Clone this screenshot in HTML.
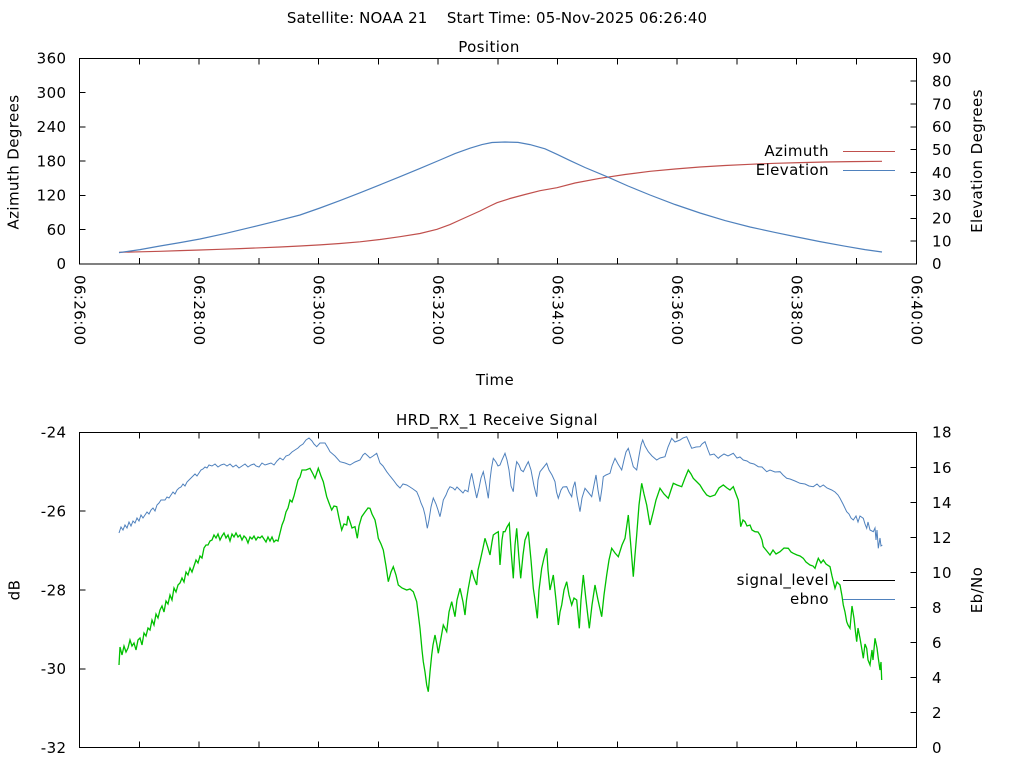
<!DOCTYPE html>
<html>
<head>
<meta charset="utf-8">
<style>
html,body{margin:0;padding:0;background:#fff;}
svg{display:block;}
text{font-family:"DejaVu Sans","Liberation Sans",sans-serif;font-size:15px;fill:#000;letter-spacing:0.4px;}
.ttl{white-space:pre;letter-spacing:0.1px;}
</style>
</head>
<body>
<svg width="1024" height="768" viewBox="0 0 1024 768" xmlns="http://www.w3.org/2000/svg">
<rect width="1024" height="768" fill="#fff"/>

<!-- Titles -->
<text class="ttl" x="497" y="23" text-anchor="middle" xml:space="preserve">Satellite: NOAA 21    Start Time: 05-Nov-2025 06:26:40</text>
<text x="489" y="52" text-anchor="middle">Position</text>
<text x="497" y="425" text-anchor="middle">HRD_RX_1 Receive Signal</text>
<text x="495" y="385" text-anchor="middle">Time</text>

<!-- Axis titles -->
<text transform="translate(18.5,162) rotate(-90)" text-anchor="middle">Azimuth Degrees</text>
<text transform="translate(982,161) rotate(-90)" text-anchor="middle">Elevation Degrees</text>
<text transform="translate(19.5,590) rotate(-90)" text-anchor="middle">dB</text>
<text transform="translate(982,590) rotate(-90)" text-anchor="middle">Eb/No</text>

<!-- ===== TOP PLOT ===== -->
<g stroke="#000" stroke-width="1" fill="none" shape-rendering="crispEdges">
<rect x="79.5" y="58.5" width="837" height="205.5"/>
<path d="M79.5 264v-6M139.3 264v-6M199.1 264v-6M258.8 264v-6M318.6 264v-6M378.4 264v-6M438.1 264v-6M497.9 264v-6M557.7 264v-6M617.4 264v-6M677.2 264v-6M737 264v-6M796.7 264v-6M856.5 264v-6M916.5 264v-6
M79.5 58.5v6M139.3 58.5v6M199.1 58.5v6M258.8 58.5v6M318.6 58.5v6M378.4 58.5v6M438.1 58.5v6M497.9 58.5v6M557.7 58.5v6M617.4 58.5v6M677.2 58.5v6M737 58.5v6M796.7 58.5v6M856.5 58.5v6M916.5 58.5v6"/>
<path d="M79.5 229.7h6M79.5 195.4h6M79.5 161.2h6M79.5 126.9h6M79.5 92.6h6"/>
<path d="M916.5 241.1h-6M916.5 218.3h-6M916.5 195.4h-6M916.5 172.6h-6M916.5 149.7h-6M916.5 126.9h-6M916.5 104h-6M916.5 81.2h-6"/>
</g>

<g text-anchor="end">
<text x="66.5" y="269">0</text>
<text x="66.5" y="235">60</text>
<text x="66.5" y="200.5">120</text>
<text x="66.5" y="166.5">180</text>
<text x="66.5" y="132">240</text>
<text x="66.5" y="98">300</text>
<text x="66.5" y="63.5">360</text>
</g>
<g>
<text x="932" y="269">0</text>
<text x="932" y="246.5">10</text>
<text x="932" y="223.5">20</text>
<text x="932" y="200.5">30</text>
<text x="932" y="178">40</text>
<text x="932" y="155">50</text>
<text x="932" y="132">60</text>
<text x="932" y="109.5">70</text>
<text x="932" y="86.5">80</text>
<text x="932" y="63.5">90</text>
</g>

<g>
<text transform="translate(79.5,275) rotate(90)" dy="5">06:26:00</text>
<text transform="translate(199.1,275) rotate(90)" dy="5">06:28:00</text>
<text transform="translate(318.6,275) rotate(90)" dy="5">06:30:00</text>
<text transform="translate(438.1,275) rotate(90)" dy="5">06:32:00</text>
<text transform="translate(557.7,275) rotate(90)" dy="5">06:34:00</text>
<text transform="translate(677.2,275) rotate(90)" dy="5">06:36:00</text>
<text transform="translate(796.7,275) rotate(90)" dy="5">06:38:00</text>
<text transform="translate(916.5,275) rotate(90)" dy="5">06:40:00</text>
</g>

<!-- Azimuth (red) -->
<polyline fill="none" stroke="#c0504d" stroke-width="1.2" points="119,252.3 140,251.8 160,251.3 180,250.6 200,250 220,249.3 240,248.6 260,247.8 280,247 300,246 320,244.9 340,243.5 360,241.8 380,239.5 400,236.7 420,233.5 437,229.3 450,224.6 460,220 470,215.5 480,211 490,206 497,202.7 510,198.5 525,194.5 540,190.7 557,187.7 575,183 600,178.3 625,174.5 650,171.3 675,169 700,167 725,165.5 750,164.3 775,163.3 800,162.6 825,162 850,161.6 882,161.3"/>

<!-- Elevation (blue) -->
<polyline fill="none" stroke="#4f81bd" stroke-width="1.2" points="119,252.6 140,249.6 160,246 180,242.6 200,239 225,233.6 250,227.6 275,221.4 300,215 320,208 340,200.6 360,192.8 380,184.8 400,176.7 420,168.4 440,160 455,153.6 470,148.2 482,144.6 492,142.5 505,142 518,142.4 530,144.6 545,148.8 557,154.3 570,160.6 585,167.5 607,176.7 628,186 650,195 675,204.5 700,213 725,220.6 750,227 775,232.4 797,237 820,241.6 845,246.2 865,249.6 882,252"/>

<!-- top legend -->
<text x="829" y="156" text-anchor="end">Azimuth</text>
<line x1="843" y1="151.5" x2="895" y2="151.5" stroke="#c0504d" stroke-width="1"/>
<text x="829" y="175" text-anchor="end">Elevation</text>
<line x1="843" y1="170.5" x2="895" y2="170.5" stroke="#4f81bd" stroke-width="1"/>

<!-- ===== BOTTOM PLOT ===== -->
<g stroke="#000" stroke-width="1" fill="none" shape-rendering="crispEdges">
<rect x="79.5" y="432.5" width="837" height="315"/>
<path d="M79.5 747.5v-6M139.3 747.5v-6M199.1 747.5v-6M258.8 747.5v-6M318.6 747.5v-6M378.4 747.5v-6M438.1 747.5v-6M497.9 747.5v-6M557.7 747.5v-6M617.4 747.5v-6M677.2 747.5v-6M737 747.5v-6M796.7 747.5v-6M856.5 747.5v-6M916.5 747.5v-6
M79.5 432.5v6M139.3 432.5v6M199.1 432.5v6M258.8 432.5v6M318.6 432.5v6M378.4 432.5v6M438.1 432.5v6M497.9 432.5v6M557.7 432.5v6M617.4 432.5v6M677.2 432.5v6M737 432.5v6M796.7 432.5v6M856.5 432.5v6M916.5 432.5v6"/>
<path d="M79.5 511.2h6M79.5 590h6M79.5 668.9h6"/>
<path d="M916.5 712.7h-6M916.5 677.6h-6M916.5 642.6h-6M916.5 607.5h-6M916.5 572.5h-6M916.5 537.5h-6M916.5 502.4h-6M916.5 467.4h-6"/>
</g>

<g text-anchor="end">
<text x="66.5" y="437.5">-24</text>
<text x="66.5" y="516.5">-26</text>
<text x="66.5" y="595.5">-28</text>
<text x="66.5" y="674">-30</text>
<text x="66.5" y="753">-32</text>
</g>
<g>
<text x="932" y="753">0</text>
<text x="932" y="718">2</text>
<text x="932" y="683">4</text>
<text x="932" y="648">6</text>
<text x="932" y="613">8</text>
<text x="932" y="578">10</text>
<text x="932" y="543">12</text>
<text x="932" y="508">14</text>
<text x="932" y="473">16</text>
<text x="932" y="437.5">18</text>
</g>

<!-- ebno (blue) -->
<polyline fill="none" stroke="#4f81bd" stroke-width="1" points="119,533 121,527 123,530 125,525 127,528 129,522 131,526 133,521 135,523 137,518 139,521 141,515 143,518 145,515 147,512 149,514 151,510 153,508 155,511 157,505 159,503 161,500 163,500 165,500 167,497 169,498 171,495 173,492 175,494 177,490 179,488 181,487 183,484 185,486 187,482 189,480 191,478 193,476 195,474 197,476 199,473 201,470 203,469 205,467 207,468 209,465 212,466 215,464 218,467 221,465 224,464 227,466 230,464 233,467 236,465 239,468 242,466 245,464 248,467 251,465 254,464 256,466 259,467 262,463 265,465 268,464 271,463 274,465 277,461 280,458 283,460 286,456 289,455 292,452 295,450 298,448 300,446 303,444 306,440 309,438 312,441 314,444 316.7,446.7 320,443 325,443 328,448 330,451.7 335,456 340,461.7 345,463 350,465 355,462 360,460 363,455 365,453.3 368,456 370,458 373,456 376.7,453.3 380,463 383,466 386.7,471.7 390,476 393.3,480 397,485 400,488 403,484 406.7,485 410,487 413,489 416.7,491.7 419,497 421,503 423.3,508.3 425,515 427.3,528.3 429,520 431,507 433.3,498 436,504 438,510 440,516.7 442,507 443.3,500 446,495 448,490 450,486.7 453,488 455,490 457,487 460,490 463,493 465,490 468,491.7 470,480 471.7,473.3 474,485 476.7,498 479,488 481,478 483.3,471.7 486,485 488.3,498.3 490,480 491.5,468 493.3,458.3 496,462 498,466 500,465 502,460 505,453.3 507,460 509,470 511,486 513.3,491.7 515,472 516.7,461.7 519,465 521,470 523.3,471.7 526,466 528.3,461.7 531,470 534,486 536.7,496.7 538,480 540,471.7 543,468 546.7,463.3 549,470 552,475 555,481.7 556.5,492 558.3,498.3 561,490 563,487 566.7,486.7 569,492 571.7,496.7 573,488 575,481.7 577,496 580,511.7 582,498 585,488.3 588,492 591.7,496.7 594,485 596,475 598,490 600,501.7 602,488 603.3,476.7 606,475 610,473.3 612,466 615,458.3 618,464 621.7,470 624,460 626,452 628.3,448.3 631,458 633.3,466.7 636.7,470 639,456 641,445 642.7,440 645,446 648.3,451.7 652,456 656.7,460 660,458 665,456.7 668,447 671.7,438.3 675,442 680,440 683,438 686.7,436.7 689,442 691.7,448.3 696,447 700,446.7 702,444 705,441.7 708,450 710,455 714,454 718.3,458.3 720,456.7 724,454 728,456 733.3,453.3 737,458 740,457 743.3,460 747,461 750,463 754,464 758.3,466.7 762,467 766.7,471.7 770,470 775,472 780,471.7 783,475 786.7,478.3 790,479 795,481 800,483.3 805,484 809,486 813.3,486.7 817,484 820,487 823.3,485 827,488 831.7,490 835,492 838,495 840,498.3 843,504 846.7,511.7 849,514 851,518 853.3,520 856,516 858,522 860,516 863.3,518.3 865,524 866.7,528.3 868,522 870,530 873.3,531.7 875,528 876,540 877,530 878.3,548.3 880,538 881,546 882.3,545"/>

<!-- signal_level (green) -->
<polyline fill="none" stroke="#00c000" stroke-width="1.3" points="119,665 120,647 122,655 124,646 126,652 128,648 130,640 132,646 134,643 136,650 138,640 140,638 142,645 144,633 146,636 148,628 150,630 152,620 154,625 156,614 158,618 160,610 162,606 164,612 166,601 168,604 170,595 172,600 174,588 176,592 178,585 180,583 182,578 184,582 186,572 188,575 190,568 192,572 194,566 196,560 198,563 200,556 202,558 204,548 206,545 208,545 210,541 212,540 214,535 216,538 218,534 220,540 222,536 224,533 226,538 228,535 230,541 232,534 234,537 236,533 238,537 240,535 242,540 244,536 246,538 248,543 250,537 252,539 254,536 256,540 258,537 260,538 262,536 264,539 266,542 268,537 270,541 272,537 274,542 276,540 278,541 280,533 282,525 284,520 286,512 288,508 290,500 292,502 294,496 296,488 298,480 300,477 302,470 306,470 310,468.3 313,474 315,478.3 318.3,468.3 321,476 323.3,481.7 326.7,496.7 329,503 331.7,510 334,506 336.7,506.7 339,518 341.7,530 344,524 346.7,525 348,516 350,521.7 352,528 355,526.7 357.3,538.3 359,526 361.7,516.7 365,512 368,508 370,508.3 372,514 375,520 377,530 378.3,538.3 381,544 383.3,550 386,566 388.3,581.7 391,572 393.3,566.7 396,575 398.3,585 402,588 406.7,590 410,589 413.3,591.7 416.7,601.7 418,612 420,628.3 422,650 423.3,661.7 425,672 426.7,685 428.3,691.7 430,672 431.7,655 433,645 435,635 437,645 438.3,653.3 441,638 443.3,625 446.7,631.7 449,612 451.7,601.7 455,616.7 457,600 460,588.3 463,602 465,615 466.5,600 468.3,588.3 471.7,570 474,578 476.7,585 478,570 480,561.7 483,548 485,538.3 488,548 490,555 492,542 493.3,535 496,533 498.3,531.7 500,565 502,540 503.3,531.7 505,531.7 507,527 509.3,523.3 511,550 513.3,578.3 515,545 516.7,528.3 518.7,555 520.7,578.3 523,555 525,540 528.3,531.7 531,560 533.3,588.3 535,600 537.3,618.3 539,590 541.7,568.3 544,558 546.7,548.3 548,570 550,590 553.3,575 556,600 558.3,625 560,612 561.7,605 564,590 566.7,581.7 569,595 571.7,605 574,598 576.7,600 579.3,628.3 581,600 583.3,575 586,600 589.3,628.3 592,605 595,585 598,600 601.7,616.7 604,595 606.7,575 609,560 611.7,548.3 615,553 618.3,556.7 622,545 625,538.3 628.3,515 631,548 633.3,576.7 635,555 636.7,535 639,505 641.7,483.3 644,494 646.7,505 650,525 653.3,511.7 656,500 660,488.3 664,494 668.3,498.3 671,490 673.3,483.3 677,485 681.7,486.7 685,478 688.3,470 691,474 693.3,478.3 697,482 700,485 703,490 706.7,495 710,496.7 715,495 719,488 723.3,485 727,488 730,490 733.3,486.7 736,494 738.3,500 740.7,526.7 743,520 745,521.7 747,526 750,525 752,530 755,531.7 758,532 760,535 762,540 763.3,546.7 766,550 770,555 773,550 776,554 780,551.7 784,548 788.3,548.3 791,552 793.3,553.3 797,555 800,556 803.3,558.3 806,562 810,565 813,566 815,568.3 817,562 818.3,558.3 821,563 823.3,560 826,564 830,566.7 832,576 835,588.3 837,582 840,585 842,596 843.3,605 845,612 846.7,621.7 848,625 850,628.3 852,606 854,618.3 855.5,632 856.7,641.7 858,628 860,638.3 862,650 863.3,658.3 865,644 866.7,648.3 868,660 870,665 872,650 873,660 875,638.3 877,648 878.3,658.3 880,670 881,662 881.7,680"/>

<!-- bottom legend -->
<text x="829" y="585" text-anchor="end">signal_level</text>
<line x1="843" y1="580.5" x2="895" y2="580.5" stroke="#000" stroke-width="1"/>
<text x="829" y="604" text-anchor="end">ebno</text>
<line x1="843" y1="599.5" x2="895" y2="599.5" stroke="#4f81bd" stroke-width="1"/>
</svg>
</body>
</html>
